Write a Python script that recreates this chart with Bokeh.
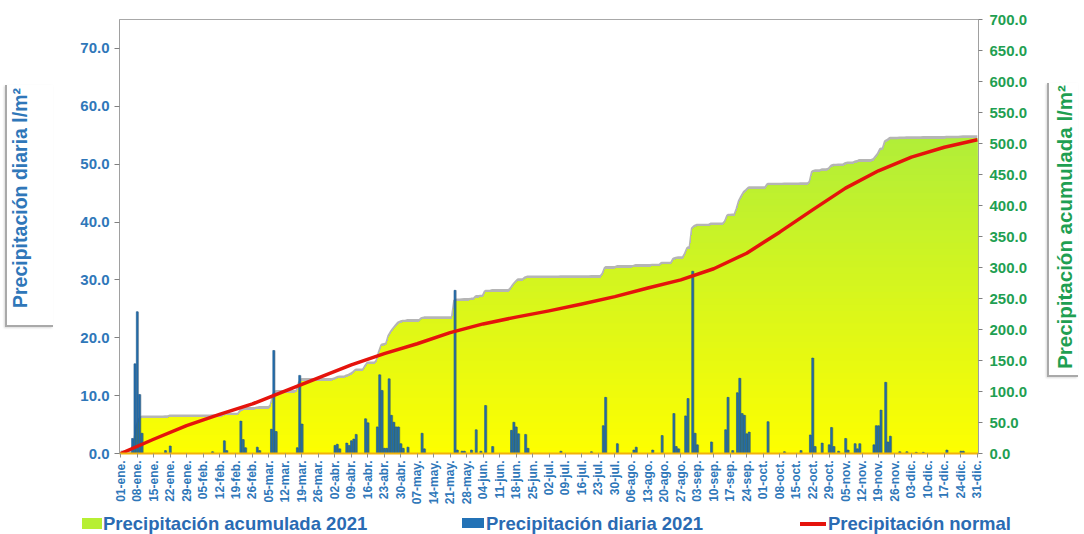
import math
import numpy as np
from bokeh.plotting import figure
from bokeh.layouts import column, row
from bokeh.models import (Range1d, LinearAxis, FixedTicker, PrintfTickFormatter, Div)
from bokeh.embed import file_html
from bokeh.resources import INLINE

# ---------------- data ----------------
tick_labels = ["01-ene.", "08-ene.", "15-ene.", "22-ene.", "29-ene.", "05-feb.", "12-feb.",
               "19-feb.", "26-feb.", "05-mar.", "12-mar.", "19-mar.", "26-mar.", "02-abr.",
               "09-abr.", "16-abr.", "23-abr.", "30-abr.", "07-may.", "14-may.", "21-may.",
               "28-may.", "04-jun.", "11-jun.", "18-jun.", "25-jun.", "02-jul.", "09-jul.",
               "16-jul.", "23-jul.", "30-jul.", "06-ago.", "13-ago.", "20-ago.", "27-ago.",
               "03-sep.", "10-sep.", "17-sep.", "24-sep.", "01-oct.", "08-oct.", "15-oct.",
               "22-oct.", "29-oct.", "05-nov.", "12-nov.", "19-nov.", "26-nov.", "03-dic.",
               "10-dic.", "17-dic.", "24-dic.", "31-dic."]

# day of year (0 = 01-ene) and daily precipitation 2021 (l/m2)
rain_day = [5, 6, 7, 8, 9, 19, 21,
            39, 44, 45, 51, 52, 53, 58, 59,
            64, 65, 66, 75, 76, 77,
            91, 92, 93, 96, 97, 98, 99, 100, 104, 105, 109, 110, 111, 112, 113, 114, 115,
            116, 117, 118, 119, 120, 122,
            128, 129, 142, 143, 145, 146, 149,
            151, 153, 155, 158, 166, 167, 168, 169, 172, 173,
            187, 200, 205, 206, 211,
            218, 219, 226, 230, 235, 236, 237, 240, 241, 243, 244, 245,
            251, 257, 258, 260, 262, 263, 264, 265, 266, 267,
            275, 282, 289, 293, 294, 295, 298, 301, 302, 303, 305,
            308, 309, 312, 313, 314, 320, 321, 322, 323, 325, 326, 327,
            331, 334, 338, 341, 351, 357, 358]
rain_mm = [2.6, 15.5, 24.5, 10.2, 3.5, 0.5, 1.3,
           0.3, 2.2, 0.5, 5.6, 2.4, 1.0, 1.1, 0.5,
           4.2, 17.8, 3.8, 1.0, 13.5, 5.1,
           1.4, 1.6, 0.8, 1.8, 1.4, 2.2, 2.5, 3.3, 6.0, 5.3, 4.6, 13.6, 10.9, 0.9, 0.9, 12.9, 6.6,
           5.4, 4.6, 4.6, 1.7, 0.9, 1.1,
           3.5, 0.8, 28.2, 0.6, 0.4, 0.4, 0.6,
           4.1, 0.4, 8.3, 1.2, 4.0, 5.4, 4.6, 3.4, 3.3, 0.9,
           0.4, 0.3, 4.8, 9.7, 1.7,
           0.6, 1.1, 0.6, 3.1, 6.9, 1.2, 0.8, 6.5, 9.5, 31.5, 3.5, 1.5,
           2.0, 4.1, 9.7, 0.5, 10.5, 13.0, 6.9, 6.6, 3.4, 3.7,
           5.5, 0.3, 0.5, 3.2, 16.5, 1.2, 1.8, 1.5, 4.5, 1.2, 0.4,
           2.6, 0.6, 1.7, 0.8, 1.7, 1.5, 4.8, 4.8, 7.5, 12.3, 2.0, 3.0,
           0.3, 0.3, 0.2, 0.2, 0.6, 0.4, 0.4]

# normal accumulated precipitation (l/m2)
normal_day = [0, 14, 28, 42, 56, 70, 84, 98, 112, 126, 140, 154, 168, 182, 196,
              210, 224, 238, 252, 266, 280, 294, 308, 322, 336, 350, 364]
normal_mm = [0, 23, 45, 63, 80, 101, 122, 143, 161, 177, 195, 209, 220, 230, 241,
             253, 267, 280, 298, 323, 357, 393, 428, 456, 478, 494, 506]

left_title = "Precipitación diaria l/m²"
right_title = "Precipitación acumulada l/m²"
legend_labels = ["Precipitación acumulada 2021", "Precipitación diaria 2021",
                 "Precipitación normal"]

# ---------------- derived ----------------
N_DAYS = 365
days = np.arange(N_DAYS)
daily = np.zeros(N_DAYS)
daily[rain_day] = rain_mm
accum = np.cumsum(daily)

FONT = "Liberation Sans"
BLUE_TXT = "#2f77b9"
GREEN_TXT = "#1f9f52"
LEG_TXT = "#2a6bb3"
AREA_TOP = np.array([176, 238, 58])
AREA_BOT = np.array([255, 255, 0])
BAR_FILL = "#2372b6"
BAR_LINE = "#175384"
RED = "#e5130c"


def band_color(b):
    t = min(b / 520.0, 1.0)
    c = (AREA_BOT + (AREA_TOP - AREA_BOT) * t).astype(int)
    return "#%02x%02x%02x" % tuple(c)


MAIN_H = 507
p = figure(width=970, height=MAIN_H, output_backend="svg", toolbar_location=None,
           x_range=Range1d(-0.5, 364.5), y_range=Range1d(0, 75),
           min_border_left=59, min_border_right=52, min_border_top=19, min_border_bottom=54,
           background_fill_color="white", border_fill_color="white",
           outline_line_color="#a8a8a8", outline_line_width=1)
p.extra_y_ranges = {"acc": Range1d(0, 700)}
p.xgrid.visible = False
p.ygrid.visible = False

# gray shadow on top of accumulated area
p.line(days, accum + 2.0, line_color="#a3a3a3", line_width=3.5, line_alpha=0.8,
       y_range_name="acc")

# accumulated area with vertical gradient (bands drawn top-down)
for b in np.arange(540, 0, -10):
    p.varea(x=days, y1=0, y2=np.minimum(accum, b), fill_color=band_color(b),
            y_range_name="acc")

# daily bars
p.vbar(x=np.array(rain_day) + 0.45, top=rain_mm, width=0.7, fill_color="#33536a",
       fill_alpha=0.45, line_alpha=0)
p.vbar(x=rain_day, top=rain_mm, width=0.7, fill_color=BAR_FILL,
       line_color=BAR_LINE, line_width=0.6)

# normal line
p.line(normal_day, normal_mm, line_color=RED, line_width=3.5,
       line_join="round", y_range_name="acc")

# ---------------- axes ----------------
ly = p.yaxis[0]
ly.ticker = FixedTicker(ticks=list(range(0, 71, 10)))
ly.formatter = PrintfTickFormatter(format="%.1f")
ly.major_label_text_color = BLUE_TXT
ly.major_label_text_font = FONT
ly.major_label_text_font_style = "bold"
ly.major_label_text_font_size = "15px"
ly.axis_line_color = "#a0a0a0"
ly.major_tick_line_color = "#808080"
ly.major_tick_out = 5
ly.major_tick_in = 0
ly.minor_tick_line_color = None
ly.major_label_standoff = 5

ry = LinearAxis(y_range_name="acc")
ry.ticker = FixedTicker(ticks=list(range(0, 701, 50)))
ry.formatter = PrintfTickFormatter(format="%.1f")
ry.major_label_text_color = GREEN_TXT
ry.major_label_text_font = FONT
ry.major_label_text_font_style = "bold"
ry.major_label_text_font_size = "15px"
ry.axis_line_color = "#a0a0a0"
ry.major_tick_line_color = "#808080"
ry.major_tick_out = 4
ry.major_tick_in = 0
ry.minor_tick_line_color = None
ry.major_label_standoff = 7
p.add_layout(ry, "right")

xa = p.xaxis[0]
tick_pos = list(range(0, 365, 7))
xa.ticker = FixedTicker(ticks=tick_pos)
xa.major_label_overrides = {d: lab for d, lab in zip(tick_pos, tick_labels)}
xa.major_label_orientation = math.pi / 2
xa.major_label_text_color = BLUE_TXT
xa.major_label_text_font = FONT
xa.major_label_text_font_style = "bold"
xa.major_label_text_font_size = "12px"
xa.axis_line_color = "#f2b20a"
xa.axis_line_width = 2
xa.major_tick_line_color = "#909090"
xa.major_tick_out = 4
xa.major_tick_in = 0
xa.minor_tick_line_color = None
xa.major_label_standoff = 3


# ---------------- axis titles (rotated HTML text) ----------------
def title_div(width, text, color, size, cx, cy, box):
    bl, bt, bw, bh = box
    html = (
        f'<div style="position:relative;width:{width}px;height:{MAIN_H}px;">'
        f'<div style="position:absolute;left:{bl}px;top:{bt}px;width:{bw}px;height:{bh}px;'
        f'border-left:2px solid #a9a9a9;border-bottom:2px solid #a9a9a9;'
        f'box-shadow:-1px 1px 2px rgba(0,0,0,0.15);"></div>'
        f'<div style="position:absolute;left:{cx}px;top:{cy}px;'
        f'transform:translate(-50%,-50%) rotate(-90deg);white-space:nowrap;'
        f'font-family:\'{FONT}\';font-weight:bold;font-size:{size}px;line-height:1;'
        f'color:{color};">{text}</div></div>'
    )
    return Div(text=html, width=width, height=MAIN_H, margin=0)


left_div = title_div(60, left_title, BLUE_TXT, 19.5, 21, 198, (5, 85, 48, 242))
right_div = title_div(50, right_title, GREEN_TXT, 20.5, 35, 227, (17, 83, 31, 294))

# ---------------- legend strip (HTML) ----------------
LEG_H = 27
leg_html = (
    f'<div style="position:relative;width:1080px;height:{LEG_H}px;'
    f'font-family:\'{FONT}\';font-weight:bold;font-size:18.5px;color:{LEG_TXT};">'
    f'<div style="position:absolute;left:82px;top:11px;width:20px;height:11px;'
    f'background:{band_color(470)};"></div>'
    f'<div style="position:absolute;left:103px;top:7px;line-height:20px;white-space:nowrap;">'
    f'{legend_labels[0]}</div>'
    f'<div style="position:absolute;left:462px;top:11px;width:22px;height:10px;'
    f'background:{BAR_FILL};"></div>'
    f'<div style="position:absolute;left:486px;top:7px;line-height:20px;white-space:nowrap;">'
    f'{legend_labels[1]}</div>'
    f'<div style="position:absolute;left:800px;top:15px;width:26px;height:3.5px;'
    f'background:{RED};"></div>'
    f'<div style="position:absolute;left:828px;top:7px;line-height:20px;white-space:nowrap;">'
    f'{legend_labels[2]}</div>'
    f'</div>'
)
leg_div = Div(text=leg_html, width=1080, height=LEG_H, margin=0)

layout = column(row(left_div, p, right_div, spacing=0), leg_div, spacing=0)
open("out.html", "w").write(file_html(layout, INLINE))
